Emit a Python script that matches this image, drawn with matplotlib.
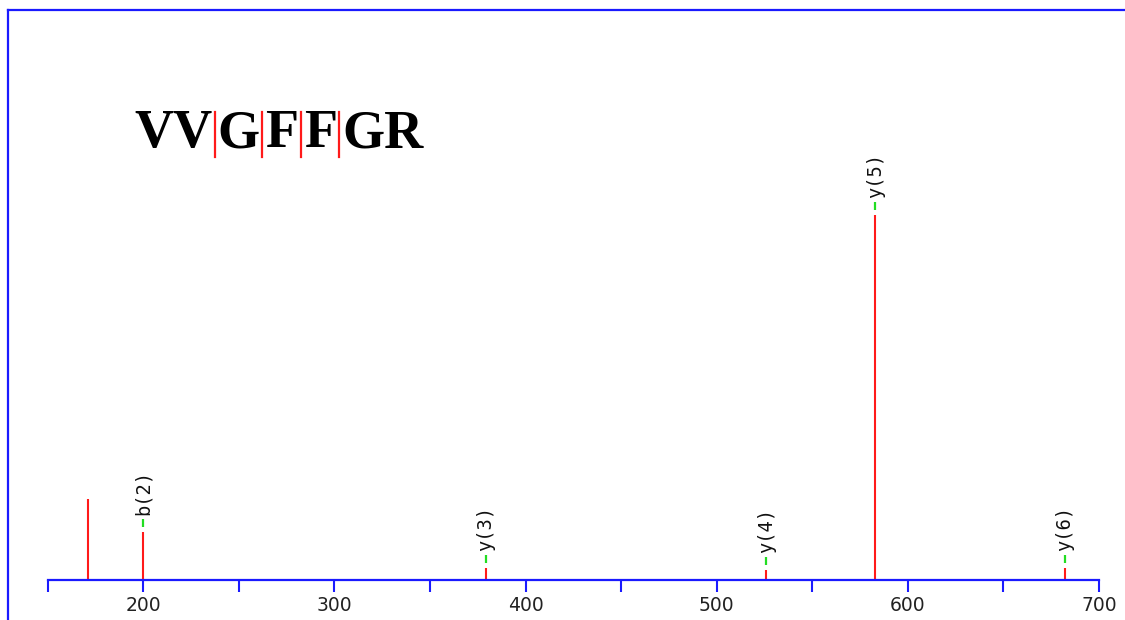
import matplotlib
matplotlib.use("Agg")
import matplotlib.pyplot as plt
from matplotlib.lines import Line2D
from matplotlib.transforms import offset_copy

# fragment peaks (m/z, relative intensity) and their ion labels
mz = [171.2, 199.8, 379.2, 526.0, 583.0, 682.0]
intensity = [22.1, 13.1, 3.3, 2.7, 100.0, 3.4]
ion_labels = ["", "b(2)", "y(3)", "y(4)", "y(5)", "y(6)"]

# peptide sequence, split at the observed cleavage sites
sequence_parts = ["VV", "G", "F", "F", "GR"]

major_ticks = [200, 300, 400, 500, 600, 700]
minor_ticks = [150, 250, 350, 450, 550, 650]

BLUE = "#1a1aff"
RED = "#ff1a1a"
GREEN = "#22dd22"

W, H = 1125, 620
fig = plt.figure(figsize=(W / 100, H / 100), dpi=100)
fig.patch.set_facecolor("white")

ax = fig.add_axes([47.7 / W, 40 / H, (1099 - 47.7) / W, 570 / H])
ax.set_xlim(150, 700)
ax.set_ylim(0, 156.2)
for side in ("left", "right", "top"):
    ax.spines[side].set_visible(False)
ax.spines["bottom"].set_color(BLUE)
ax.spines["bottom"].set_linewidth(1.6)
ax.set_yticks([])
ax.set_xticks(major_ticks)
ax.set_xticks(minor_ticks, minor=True)
ax.tick_params(axis="x", which="both", direction="out", length=8.8, width=1.5,
               colors=BLUE, labelcolor="#222222", labelsize=13.5, pad=3)
ax.patch.set_alpha(0)

ax.vlines(mz, 0, intensity, colors=RED, linewidth=1.5)

dash_tr = offset_copy(ax.transData, fig=fig, y=9, units="dots")
text_tr = offset_copy(ax.transData, fig=fig, y=17, units="dots")
for x, h, lab in zip(mz, intensity, ion_labels):
    if not lab:
        continue
    ax.plot(x, h, marker="|", markersize=6, markeredgewidth=1.6,
            color=GREEN, transform=dash_tr)
    ax.text(x, h, lab, rotation=90, ha="center", va="bottom",
            fontsize=13.5, family="DejaVu Sans Mono", color="#111111",
            transform=text_tr)

# outer frame: left and top edges
fig.add_artist(Line2D([8 / W, 8 / W], [0, (H - 10) / H], color=BLUE,
                      linewidth=1.6, transform=fig.transFigure))
fig.add_artist(Line2D([8 / W, 1], [(H - 10) / H, (H - 10) / H], color=BLUE,
                      linewidth=1.6, transform=fig.transFigure))

# sequence with red bars between fragments
renderer = fig.canvas.get_renderer()
x_px = 134
base_y = (H - 147) / H
for i, part in enumerate(sequence_parts):
    t = fig.text(x_px / W, base_y, part, fontsize=39, fontweight="bold",
                 family="Liberation Serif", va="baseline", ha="left")
    bb = t.get_window_extent(renderer=renderer)
    x_px = bb.x1
    if i < len(sequence_parts) - 1:
        x_px += 2.5
        fig.add_artist(Line2D([x_px / W, x_px / W], [(H - 157) / H, (H - 112) / H],
                              color=RED, linewidth=1.6, transform=fig.transFigure))
        x_px += 3

fig.savefig("out.png", dpi=100)
